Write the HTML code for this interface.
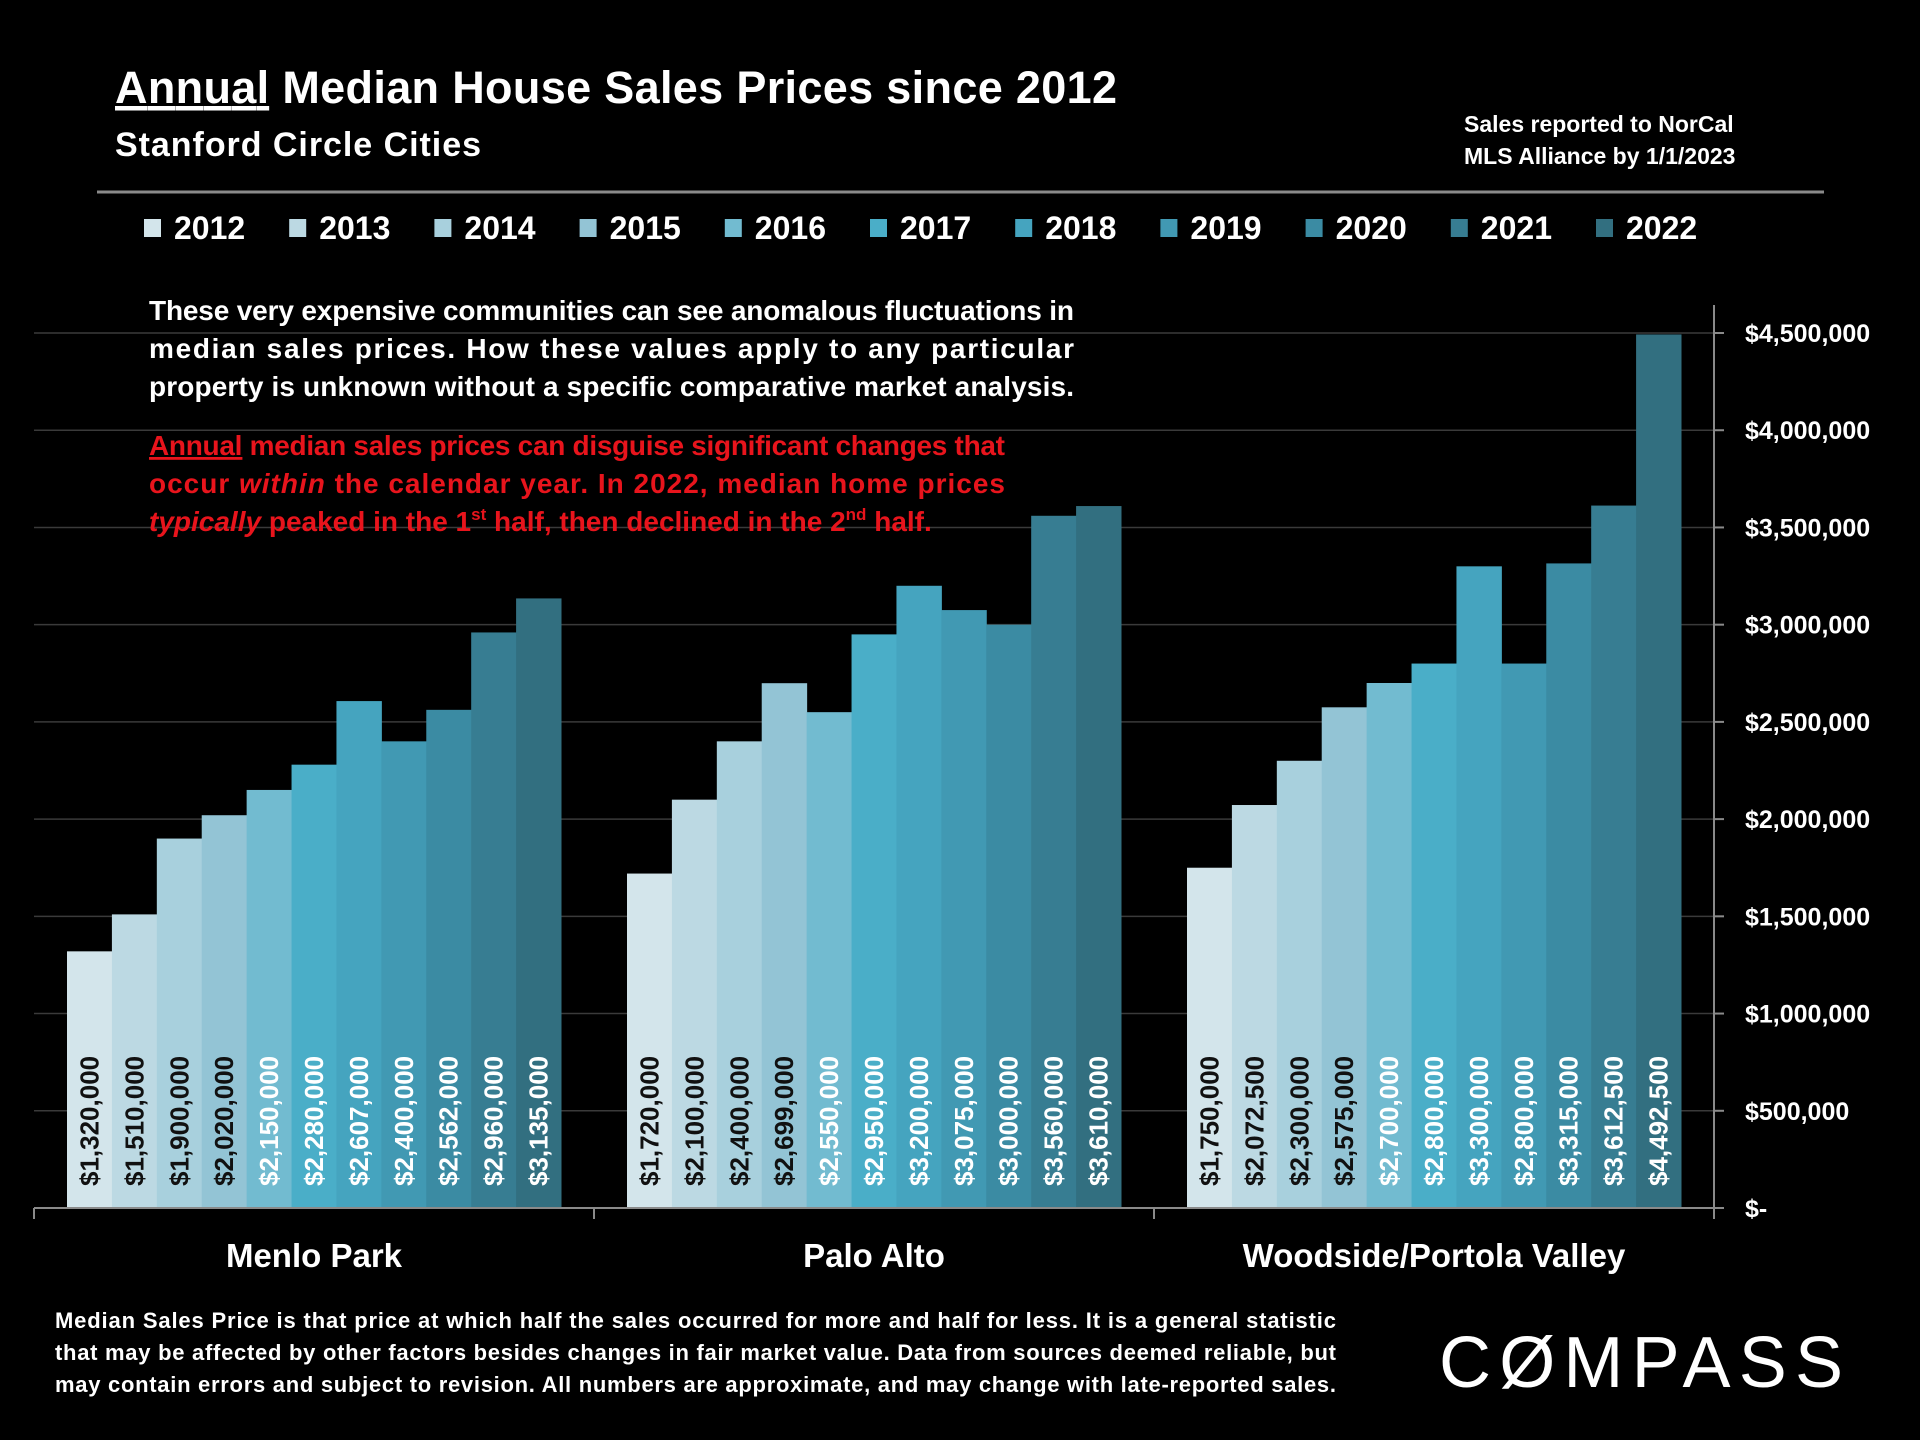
<!DOCTYPE html>
<html><head><meta charset="utf-8"><style>
body{margin:0;background:#000;}
svg{display:block;font-family:"Liberation Sans",sans-serif;}
</style></head><body>
<svg id="chart" width="1920" height="1440" viewBox="0 0 1920 1440">
<rect width="1920" height="1440" fill="#000"/>
<text x="115" y="103" fill="#fff" font-size="45" font-weight="bold" textLength="1002" lengthAdjust="spacing"><tspan text-decoration="underline">Annual</tspan> Median House Sales Prices since 2012</text>
<text x="115" y="156" fill="#fff" font-size="34" font-weight="bold" textLength="366" lengthAdjust="spacing">Stanford Circle Cities</text>
<text x="1464" y="132" fill="#fff" font-size="23" font-weight="bold">Sales reported to NorCal</text>
<text x="1464" y="164" fill="#fff" font-size="23" font-weight="bold">MLS Alliance by 1/1/2023</text>
<line x1="97" y1="192" x2="1824" y2="192" stroke="#8a8a8a" stroke-width="3"/>
<g id="legend"></g>
<g id="grid"></g>
<g id="bars"></g>
<g id="axes"></g>
<g fill="#fff" font-size="28" font-weight="bold">
<text x="149" y="320" textLength="925" lengthAdjust="spacing">These very expensive communities can see anomalous fluctuations in</text>
<text x="149" y="358" textLength="925" lengthAdjust="spacing">median sales prices. How these values apply to any particular</text>
<text x="149" y="396" textLength="925" lengthAdjust="spacing">property is unknown without a specific comparative market analysis.</text>
</g>
<g fill="#e8141c" font-size="28" font-weight="bold">
<text x="149" y="455" textLength="856" lengthAdjust="spacing"><tspan text-decoration="underline">Annual</tspan> median sales prices can disguise significant changes that</text>
<text x="149" y="493" textLength="856" lengthAdjust="spacing">occur <tspan font-style="italic">within</tspan> the calendar year. In 2022, median home prices</text>
<text x="149" y="531"><tspan font-style="italic">typically</tspan> peaked in the 1<tspan font-size="17" dy="-11">st</tspan><tspan dy="11"> half, then declined in the 2</tspan><tspan font-size="17" dy="-11">nd</tspan><tspan dy="11"> half.</tspan></text>
</g>
<g fill="#fff" font-size="22" font-weight="bold">
<text x="55" y="1328" textLength="1281" lengthAdjust="spacing">Median Sales Price is that price at which half the sales occurred for more and half for less. It is a general statistic</text>
<text x="55" y="1360" textLength="1281" lengthAdjust="spacing">that may be affected by other factors besides changes in fair market value. Data from sources deemed reliable, but</text>
<text x="55" y="1392" textLength="1281" lengthAdjust="spacing">may contain errors and subject to revision. All numbers are approximate, and may change with late-reported sales.</text>
</g>
<text x="1439" y="1387" fill="#fff" font-size="72" textLength="404" lengthAdjust="spacing">CØMPASS</text>
</svg>
<script>
const categories = ["Menlo Park","Palo Alto","Woodside/Portola Valley"];
const years = ["2012","2013","2014","2015","2016","2017","2018","2019","2020","2021","2022"];
const menloPark = [1320000,1510000,1900000,2020000,2150000,2280000,2607000,2400000,2562000,2960000,3135000];
const paloAlto = [1720000,2100000,2400000,2699000,2550000,2950000,3200000,3075000,3000000,3560000,3610000];
const woodside = [1750000,2072500,2300000,2575000,2700000,2800000,3300000,2800000,3315000,3612500,4492500];
const yTicks = [0,500000,1000000,1500000,2000000,2500000,3000000,3500000,4000000,4500000];
const yTickLabels = ["$-","$500,000","$1,000,000","$1,500,000","$2,000,000","$2,500,000","$3,000,000","$3,500,000","$4,000,000","$4,500,000"];

const colors = ["#d3e5eb","#bcd9e3","#a8d0dd","#93c4d5","#72bbd0","#4aaec8","#45a4bf","#4199b3","#3b8ba3","#377d92","#326f80"];
const NS="http://www.w3.org/2000/svg";
const X0=34,X1=1714,Y0=1208,Ytop=333,VMAX=4500000;
const y=v=>Y0-(v/VMAX)*(Y0-Ytop);
const catW=(X1-X0)/categories.length, gap=33, barW=(catW-2*gap)/years.length;
const xBar=(c,i)=>X0+c*catW+gap+i*barW;
function mk(tag,attrs,parent,text){const e=document.createElementNS(NS,tag);for(const k in attrs)e.setAttribute(k,attrs[k]);if(text!==undefined)e.textContent=text;parent.appendChild(e);return e;}
const grid=document.getElementById('grid'),bars=document.getElementById('bars'),axes=document.getElementById('axes'),legend=document.getElementById('legend');
yTicks.forEach((t,i)=>{
  if(t>0){const l=mk('line',{x1:X0,x2:X1,y1:y(t),y2:y(t),stroke:'#3a3a3a','stroke-width':1.5},grid);
  
  }
  mk('line',{x1:X1,x2:X1+10,y1:y(t),y2:y(t),stroke:'#8a8a8a','stroke-width':2},axes);
  const tx=mk('text',{x:1745,y:y(t)+9,fill:'#fff','font-size':25,'font-weight':'bold'},axes,yTickLabels[i]);
  
  
});
const series=[menloPark,paloAlto,woodside];
series.forEach((vals,c)=>{
  vals.forEach((v,i)=>{
    const r=mk('rect',{x:xBar(c,i),y:y(v),width:barW+0.5,height:Y0-y(v),fill:colors[i]},bars);
    
    
    const cx=xBar(c,i)+barW/2+9;
    const lb=mk('text',{x:cx,y:1186,transform:`rotate(-90 ${cx} 1186)`,fill:i<4?'#111':'#fff','font-size':26,'font-weight':'bold'},bars,'$'+v.toLocaleString('en-US'));
    
    
  });
  const cl=mk('text',{x:X0+c*catW+catW/2,y:1267,fill:'#fff','font-size':33,'font-weight':'bold','text-anchor':'middle'},axes,categories[c]);
  
  
});
mk('line',{x1:X0,x2:X1,y1:Y0,y2:Y0,stroke:'#8a8a8a','stroke-width':2},axes);
mk('line',{x1:X1,x2:X1,y1:305,y2:Y0,stroke:'#8a8a8a','stroke-width':2},axes);
for(let c=0;c<=categories.length;c++){mk('line',{x1:X0+c*catW,x2:X0+c*catW,y1:Y0,y2:Y0+11,stroke:'#8a8a8a','stroke-width':2},axes);}
years.forEach((yr,i)=>{
  const g=mk('g',{},legend);
  
  
  const lx=144+i*145.2;
  mk('rect',{x:lx,y:219,width:17,height:18,fill:colors[i]},g);
  mk('text',{x:lx+30,y:239,fill:'#fff','font-size':32,'font-weight':'bold'},g,yr);
});
</script>
</body></html>
